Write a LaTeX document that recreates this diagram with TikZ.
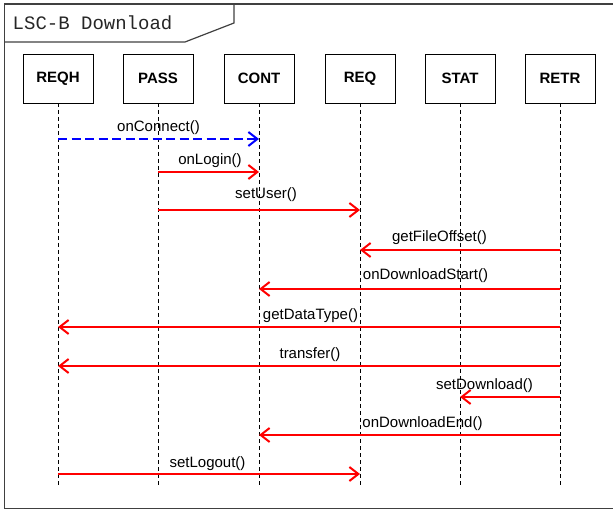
\documentclass[tikz,border=0pt]{standalone}
\usepackage{fontspec}
\setmainfont{Liberation Sans}
\newfontfamily\monofam{Liberation Mono}
\usetikzlibrary{arrows.meta}
\tikzset{
  frameline/.style={draw=black!75, line width=1.2pt},
  lifebox/.style={draw=black, line width=0.9pt, fill=white, minimum width=70pt, minimum height=49pt, inner sep=0pt, font=\fontsize{15}{17}\selectfont\bfseries},
  lifeline/.style={draw=black, line width=0.9pt, dash pattern=on 4pt off 3pt},
  msg/.style={draw=red, line width=2pt, -{Straight Barb[length=9pt,width=14pt,line width=2pt]}},
  dmsg/.style={draw=blue, line width=2pt, dash pattern=on 9pt off 4.5pt, -{Straight Barb[length=9pt,width=14pt,line width=2pt]}},
  lbl/.style={font=\fontsize{15}{17}\selectfont, inner sep=0pt, anchor=base}
}
\begin{document}
\begin{tikzpicture}[x=1pt,y=-1pt]
\useasboundingbox (0,0) rectangle (613,510);
% frame
\draw[frameline] (4.5,4) rectangle (625,508.5);
\draw[frameline] (4.5,42) -- (185,42) -- (234,23) -- (234,4);
\node[font=\monofam\fontsize{19}{21}\selectfont, text=black!85, anchor=base west, inner sep=0pt] (title) at (12.5,30) {LSC-B Download};
% lifelines
\foreach \n/\x/\t in {reqh/58/REQH, pass/158/PASS, cont/259/CONT, req/360/REQ, stat/460/STAT, retr/560/RETR}{
  \coordinate (\n end) at (\x,487);
  \draw[lifeline] (\x,103) -- (\n end);
  \node[lifebox] (\n) at (\x,78.5) {\t};
}
% message y levels
\coordinate (y1) at (0,139);
\coordinate (y2) at (0,172);
\coordinate (y3) at (0,210);
\coordinate (y4) at (0,250);
\coordinate (y5) at (0,289);
\coordinate (y6) at (0,327);
\coordinate (y7) at (0,366);
\coordinate (y8) at (0,397);
\coordinate (y9) at (0,435);
\coordinate (y10) at (0,474);
% messages
\draw[dmsg] (reqh |- y1) -- (cont |- y1);
\draw[msg] (pass |- y2) -- (cont |- y2);
\draw[msg] (pass |- y3) -- (req |- y3);
\draw[msg] (retr |- y4) -- (req |- y4);
\draw[msg] (retr |- y5) -- (cont |- y5);
\draw[msg] (retr |- y6) -- (reqh |- y6);
\draw[msg] (retr |- y7) -- (reqh |- y7);
\draw[msg] (retr |- y8) -- (stat |- y8);
\draw[msg] (retr |- y9) -- (cont |- y9);
\draw[msg] (reqh |- y10) -- (req |- y10);
% labels
\node[lbl] (l1) at (158.5,131.5) {onConnect()};
\node[lbl] (l2) at (210,165) {onLogin()};
\node[lbl] (l3) at (266,198.5) {setUser()};
\node[lbl] (l4) at (439.5,241.5) {getFileOffset()};
\node[lbl] (l5) at (425.5,279.5) {onDownloadStart()};
\node[lbl] (l6) at (310.5,319.5) {getDataType()};
\node[lbl] (l7) at (310,358.5) {transfer()};
\node[lbl] (l8) at (484.5,389.5) {setDownload()};
\node[lbl] (l9) at (422.5,427.5) {onDownloadEnd()};
\node[lbl] (l10) at (207.5,467.5) {setLogout()};
\end{tikzpicture}
\end{document}
